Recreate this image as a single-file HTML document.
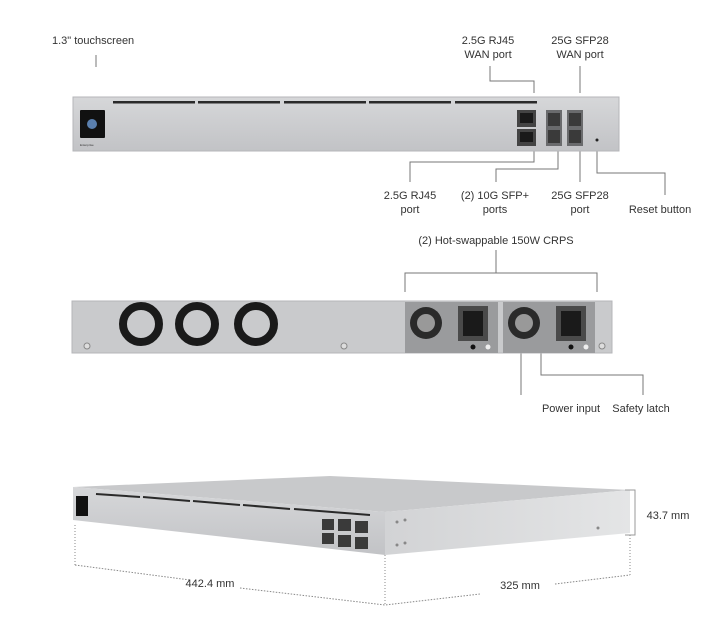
<!DOCTYPE html>
<html><head><meta charset="utf-8"><style>
html,body{margin:0;padding:0;background:#fff;}
svg{display:block;}
text{font-family:"Liberation Sans",sans-serif;font-size:11px;fill:#333;}
</style></head><body>
<svg width="721" height="642" viewBox="0 0 721 642" xmlns="http://www.w3.org/2000/svg">
<defs>
<linearGradient id="fp" x1="0" y1="0" x2="0" y2="1"><stop offset="0" stop-color="#d6d7d9"/><stop offset="1" stop-color="#c2c3c6"/></linearGradient>
<linearGradient id="side" x1="0" y1="0" x2="1" y2="0"><stop offset="0" stop-color="#d2d3d5"/><stop offset="1" stop-color="#e4e5e6"/></linearGradient>
</defs>
<g stroke="#777" stroke-width="1" fill="none">
<path d="M96 55V67"/>
<path d="M490 66V81H534V93"/>
<path d="M580 66V93"/>
<path d="M534 150V162H410V182"/>
<path d="M558 150V169H496V182"/>
<path d="M580 150V182"/>
<path d="M597 150V173H665V195"/>
<path d="M496 250V273M405 292V273H597V292"/>
<path d="M521 353V395"/>
<path d="M541 352V375H643V395"/>
</g>
<text x="52" y="44">1.3" touchscreen</text>
<text x="488" y="44" text-anchor="middle">2.5G RJ45</text>
<text x="488" y="58" text-anchor="middle">WAN port</text>
<text x="580" y="44" text-anchor="middle">25G SFP28</text>
<text x="580" y="58" text-anchor="middle">WAN port</text>
<text x="410" y="199" text-anchor="middle">2.5G RJ45</text>
<text x="410" y="213" text-anchor="middle">port</text>
<text x="495" y="199" text-anchor="middle">(2) 10G SFP+</text>
<text x="495" y="213" text-anchor="middle">ports</text>
<text x="580" y="199" text-anchor="middle">25G SFP28</text>
<text x="580" y="213" text-anchor="middle">port</text>
<text x="660" y="213" text-anchor="middle">Reset button</text>
<text x="496" y="244" text-anchor="middle">(2) Hot-swappable 150W CRPS</text>
<text x="571" y="412" text-anchor="middle">Power input</text>
<text x="641" y="412" text-anchor="middle">Safety latch</text>

<rect x="73" y="97" width="546" height="54" fill="url(#fp)" stroke="#b5b6b9"/>
<g fill="#2a2a2a">
<rect x="113" y="101" width="82" height="2.5"/><rect x="198" y="101" width="82" height="2.5"/><rect x="284" y="101" width="82" height="2.5"/><rect x="369" y="101" width="82" height="2.5"/><rect x="455" y="101" width="82" height="2.5"/>
</g>
<rect x="80" y="110" width="25" height="28" fill="#111" rx="1"/>
<circle cx="92" cy="124" r="5" fill="#5a7fae"/>
<text x="80" y="146" style="font-size:3px">Enterprise</text>
<rect x="517" y="110" width="19" height="17" fill="#444"/>
<rect x="517" y="129" width="19" height="17" fill="#444"/>
<rect x="520" y="113" width="13" height="10" fill="#1a1a1a"/>
<rect x="520" y="132" width="13" height="10" fill="#1a1a1a"/>
<rect x="546" y="110" width="16" height="36" fill="#6a6b6d"/>
<rect x="567" y="110" width="16" height="36" fill="#6a6b6d"/>
<rect x="548" y="113" width="12" height="13" fill="#3a3a3a"/><rect x="548" y="130" width="12" height="13" fill="#3a3a3a"/>
<rect x="569" y="113" width="12" height="13" fill="#3a3a3a"/><rect x="569" y="130" width="12" height="13" fill="#3a3a3a"/>
<circle cx="597" cy="140" r="1.5" fill="#222"/>

<rect x="72" y="301" width="540" height="52" fill="#c9cacc" stroke="#b5b6b9"/>
<g fill="none" stroke="#1a1a1a" stroke-width="8">
<circle cx="141" cy="324" r="18"/><circle cx="197" cy="324" r="18"/><circle cx="256" cy="324" r="18"/>
</g>
<circle cx="87" cy="346" r="3" fill="#ddd" stroke="#888"/>
<circle cx="344" cy="346" r="3" fill="#ddd" stroke="#888"/>
<circle cx="602" cy="346" r="3" fill="#ddd" stroke="#888"/>
<g>
<rect x="405" y="302" width="93" height="51" fill="#9a9b9d"/>
<rect x="503" y="302" width="92" height="51" fill="#9a9b9d"/>
<circle cx="426" cy="323" r="16" fill="#2a2a2a"/><circle cx="426" cy="323" r="9" fill="#999"/>
<circle cx="524" cy="323" r="16" fill="#2a2a2a"/><circle cx="524" cy="323" r="9" fill="#999"/>
<rect x="458" y="306" width="30" height="35" fill="#4a4a4a"/>
<rect x="556" y="306" width="30" height="35" fill="#4a4a4a"/>
<rect x="463" y="311" width="20" height="25" fill="#1a1a1a"/>
<rect x="561" y="311" width="20" height="25" fill="#1a1a1a"/>
<circle cx="473" cy="347" r="2.5" fill="#111"/><circle cx="488" cy="347" r="2.5" fill="#eee"/>
<circle cx="571" cy="347" r="2.5" fill="#111"/><circle cx="586" cy="347" r="2.5" fill="#eee"/>
</g>

<polygon points="73,487 330,476 630,490 385,512" fill="#c8c9cb"/>
<polygon points="73,487 385,512 385,555 73,520" fill="url(#fp)"/>
<polygon points="385,512 630,490 630,533 385,555" fill="url(#side)"/>
<g stroke="#2a2a2a" stroke-width="2">
<path d="M96 494L140 497M143 497L190 501M193 501L240 505M243 505L290 509M294 509L370 515"/>
</g>
<rect x="76" y="496" width="12" height="20" fill="#111"/>
<g fill="#3a3a3a">
<rect x="322" y="519" width="12" height="11"/><rect x="322" y="533" width="12" height="11"/>
<rect x="338" y="519" width="13" height="12"/><rect x="338" y="535" width="13" height="12"/>
<rect x="355" y="521" width="13" height="12"/><rect x="355" y="537" width="13" height="12"/>
</g>
<g fill="#888"><circle cx="397" cy="522" r="1.5"/><circle cx="405" cy="520" r="1.5"/><circle cx="397" cy="545" r="1.5"/><circle cx="405" cy="543" r="1.5"/><circle cx="598" cy="528" r="1.5"/></g>
<g stroke="#888" fill="none">
<path d="M75 525V565M385 555V605M630 535V575" stroke-dasharray="1 2"/>
<path d="M75 565L190 580M240 588L385 605L480 594M555 584L630 575" stroke-dasharray="1.5 1.5"/>
<path d="M625 490H635V535H625" stroke="#999"/>
</g>
<text x="210" y="587" text-anchor="middle">442.4 mm</text>
<text x="520" y="589" text-anchor="middle">325 mm</text>
<text x="668" y="519" text-anchor="middle">43.7 mm</text>
</svg>
</body></html>
